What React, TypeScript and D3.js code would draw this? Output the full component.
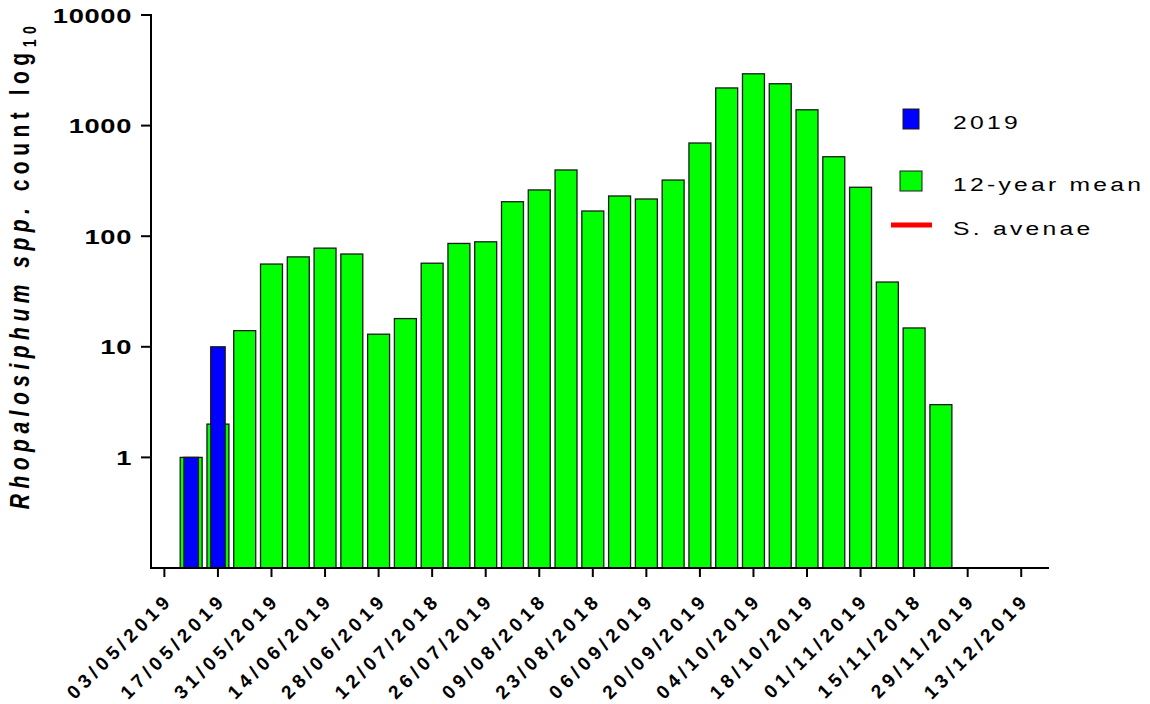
import React from "react";
import * as d3 from "d3";

const tickDates = ["03/05/2019","17/05/2019","31/05/2019","14/06/2019","28/06/2019","12/07/2018","26/07/2019","09/08/2018","23/08/2018","06/09/2019","20/09/2019","04/10/2019","18/10/2019","01/11/2019","15/11/2018","29/11/2019","13/12/2019"];
// weekly series, week index 0 = 03/05
const meanStartWeek = 1;
const meanValues = [1, 2, 14, 56, 65, 78, 69, 13, 18, 57, 86, 89, 205, 262, 397, 169, 231, 217, 322, 696, 2190, 2940, 2390, 1390, 523, 277, 38.5, 14.8, 3];
const obsStartWeek = 1;
const obsValues = [1, 10];
const yTicks = [1, 10, 100, 1000, 10000];

const SX = 1.3;
const FONT = "'Liberation Sans', Arial, Helvetica, sans-serif";

export default function App() {
  const x = d3.scaleLinear().domain([-0.5, 33]).range([151, 1048]);
  const y = d3.scaleLog().domain([0.1, 10000]).range([568, 15]);
  const wk = x(1) - x(0);
  const greenW = wk * 0.82;
  const blueW = wk * 0.54;
  const y0 = y(0.1);
  const xls = 4.5;
  const c = xls * Math.SQRT1_2;
  return (
    <svg width={1150} height={704} style={{ position: "absolute", left: 0, top: 0, background: "#fff" }} fontFamily={FONT}>
      {meanValues.map((v, i) => {
        const cx = x(meanStartWeek + i);
        return <rect key={"g" + i} x={cx - greenW / 2} y={y(v)} width={greenW} height={y0 - y(v)} fill="#00ff00" stroke="#1a1a1a" strokeWidth={1.3} />;
      })}
      {obsValues.map((v, i) => {
        const cx = x(obsStartWeek + i);
        return <rect key={"b" + i} x={cx - blueW / 2} y={y(v)} width={blueW} height={y0 - y(v)} fill="#0000ff" stroke="#1a1a1a" strokeWidth={1.3} />;
      })}
      {/* axes */}
      <line x1={151} x2={151} y1={14} y2={569} stroke="#000" strokeWidth={2} />
      <line x1={150} x2={1049} y1={568} y2={568} stroke="#000" strokeWidth={2} />
      {yTicks.map((t) => (
        <g key={"yt" + t}>
          <line x1={141} x2={151} y1={y(t)} y2={y(t)} stroke="#000" strokeWidth={2} />
          <text transform={`translate(132,${y(t) + 7.5}) scale(${SX},1)`} textAnchor="end" fontSize={21} fontWeight="bold" letterSpacing={0.5}>{t}</text>
        </g>
      ))}
      {tickDates.map((d, i) => {
        const tx = x(i * 2);
        return (
          <g key={"xt" + i}>
            <line x1={tx} x2={tx} y1={568} y2={577} stroke="#000" strokeWidth={2} />
            <text transform={`translate(${tx + 6.3 + c},${604.3 - c}) rotate(-45)`} textAnchor="end" fontSize={19} fontWeight="bold" letterSpacing={xls}>{d}</text>
          </g>
        );
      })}
      <text transform={`translate(29,${265}) scale(${SX},1) rotate(-90)`} textAnchor="middle" fontSize={21} fontWeight="bold" letterSpacing={5.5}>
        <tspan fontStyle="italic">Rhopalosiphum spp.</tspan>
        <tspan> count log</tspan>
        <tspan fontSize={14} dy={5}>10</tspan>
      </text>
      {/* legend */}
      <rect x={903} y={109} width={16} height={20} fill="#0000ff" stroke="#1a1a1a" strokeWidth={1} />
      <rect x={900} y={171} width={22} height={20} fill="#00ff00" stroke="#1a1a1a" strokeWidth={1} />
      <line x1={891} x2={932} y1={225} y2={225} stroke="#ff0000" strokeWidth={5} />
      <text transform={`translate(953,129) scale(${SX},1)`} fontSize={19} letterSpacing={2.5}>2019</text>
      <text transform={`translate(953,191) scale(${SX},1)`} fontSize={19} letterSpacing={2.5}>12-year mean</text>
      <text transform={`translate(953,235) scale(${SX},1)`} fontSize={19} letterSpacing={2.5}>S. avenae</text>
    </svg>
  );
}
